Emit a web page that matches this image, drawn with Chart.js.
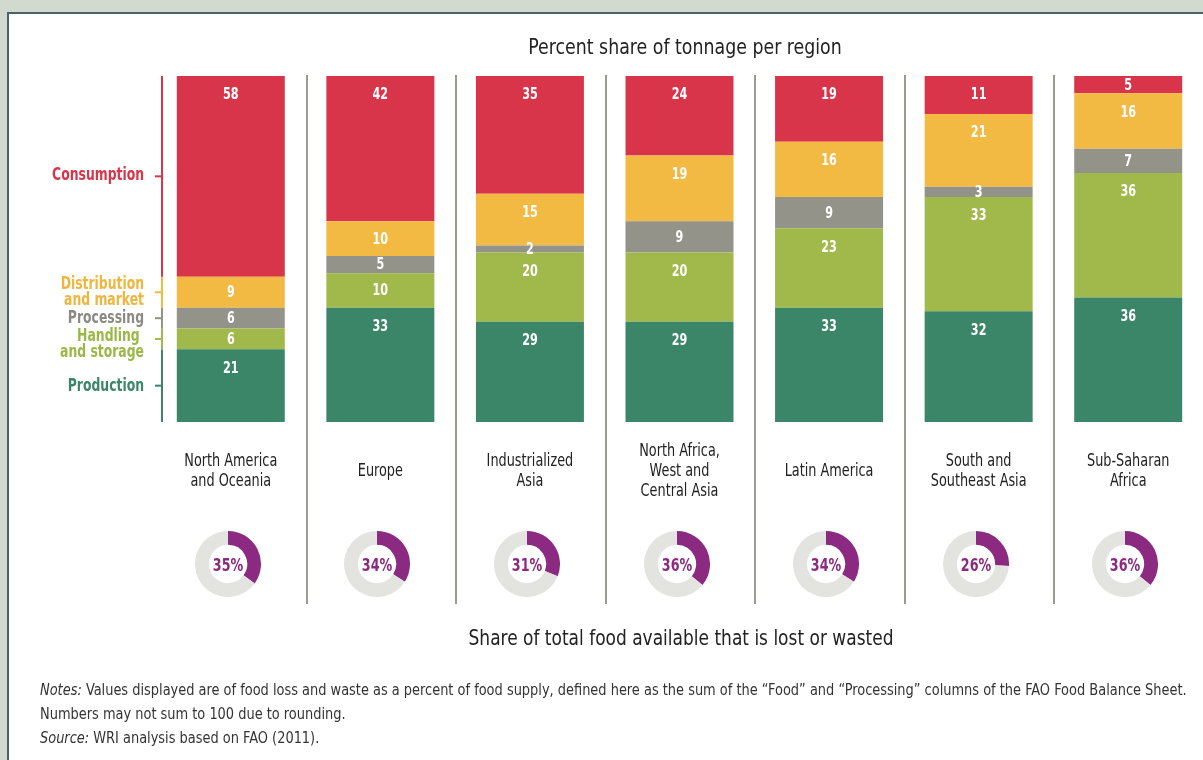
<!DOCTYPE html>
<html>
<head>
<meta charset="utf-8">
<title>Food loss and waste by stage and region</title>
<script src="https://cdn.jsdelivr.net/npm/chart.js@4/dist/chart.umd.min.js"></script>
<style>
  body {
    margin: 0;
    width: 1203px;
    height: 760px;
    overflow: hidden;
    background: #d2dacf;
    font-family: "DejaVu Sans Condensed", sans-serif;
  }
  #panel {
    position: absolute;
    left: 7px;
    top: 12px;
    width: 1220px;
    height: 780px;
    background: #fff;
    border: 2px solid #4b6267;
  }
  #stages {
    position: absolute;
    left: 0;
    top: 0;
  }
  .donut {
    position: absolute;
    top: 531px;
    width: 66px;
    height: 66px;
  }
  .donut span {
    position: absolute;
    left: 0;
    top: 1px;
    width: 66px;
    line-height: 66px;
    text-align: center;
    font-weight: bold;
    font-size: 17px;
    color: #8b2a80;
    transform: scaleX(0.83);
  }
  #notes {
    position: absolute;
    left: 40px;
    top: 678px;
    font-size: 16px;
    line-height: 24px;
    color: #333;
    white-space: nowrap;
    transform: scaleX(0.9);
    transform-origin: left top;
  }
</style>
</head>
<body>
<div id="panel"></div>
<canvas id="stages" width="1203" height="760"></canvas>
<div id="donuts"></div>
<div id="notes">
  <i>Notes:</i> Values displayed are of food loss and waste as a percent of food supply, defined here as the sum of the “Food” and “Processing” columns of the FAO Food Balance Sheet.<br>
  Numbers may not sum to 100 due to rounding.<br>
  <i>Source:</i> WRI analysis based on FAO (2011).
</div>
<script>
const regions = [
  ["North America", "and Oceania"],
  ["Europe"],
  ["Industrialized", "Asia"],
  ["North Africa,", "West and", "Central Asia"],
  ["Latin America"],
  ["South and", "Southeast Asia"],
  ["Sub-Saharan", "Africa"],
];

// percent share of tonnage lost at each stage, bottom of the stack first
const production = [21, 33, 29, 29, 33, 32, 36];
const handling = [6, 10, 20, 20, 23, 33, 36];
const processing = [6, 5, 2, 9, 9, 3, 7];
const distribution = [9, 10, 15, 19, 16, 21, 16];
const consumption = [58, 42, 35, 24, 19, 11, 5];

// share of total food available that is lost or wasted
const lostShare = [35, 34, 31, 36, 34, 26, 36];

const FONT = '"DejaVu Sans Condensed", sans-serif';

const stages = [
  { label: ["Production"], data: production, color: "#3b8668", text: "#3b8668", lines: [1] },
  { label: ["Handling ", "and storage"], data: handling, color: "#a0b94a", text: "#9bb847", lines: [-2, 14] },
  { label: ["Processing"], data: processing, color: "#939389", text: "#8a8a82", lines: [0] },
  { label: ["Distribution", "and market"], data: distribution, color: "#f2b943", text: "#f0b53e", lines: [-8, 8] },
  { label: ["Consumption"], data: consumption, color: "#d8344a", text: "#d8344a", lines: [-1] },
];

// the reference lettering is a narrow face, so squeeze text horizontally
function narrowText(ctx, text, x, y, sx) {
  ctx.save();
  ctx.translate(x, y);
  ctx.scale(sx, 1);
  ctx.fillText(text, 0, 0);
  ctx.restore();
}

// separators, stage axis, values in the bars and the surrounding captions
const annotations = {
  id: "annotations",
  beforeDatasetsDraw(chart) {
    const { ctx, chartArea } = chart;
    const colW = (chartArea.right - chartArea.left) / regions.length;
    ctx.save();
    ctx.strokeStyle = "#9a9a92";
    ctx.lineWidth = 2;
    for (let i = 1; i < regions.length; i++) {
      const x = Math.round(chartArea.left + i * colW) + 1;
      ctx.beginPath();
      ctx.moveTo(x, 75);
      ctx.lineTo(x, 604);
      ctx.stroke();
    }
    ctx.restore();
  },
  afterDatasetsDraw(chart) {
    const { ctx, chartArea, scales } = chart;
    const y = scales.y;
    const colW = (chartArea.right - chartArea.left) / regions.length;
    ctx.save();

    // stage axis on the left, split by the first region's stack
    let cum = 0;
    const axisX = chartArea.left + 6;
    stages.forEach((s) => {
      const v = s.data[0];
      const bottom = y.getPixelForValue(cum);
      const top = Math.max(y.getPixelForValue(cum + v), chartArea.top);
      const mid = (top + bottom) / 2;
      cum += v;
      ctx.fillStyle = s.color;
      ctx.fillRect(axisX - 1, top, 2, bottom - top);
      ctx.fillRect(axisX - 7, mid - 1, 7, 2);
      ctx.font = "bold 17px " + FONT;
      ctx.fillStyle = s.text;
      ctx.textAlign = "right";
      ctx.textBaseline = "middle";
      s.label.forEach((line, k) => {
        narrowText(ctx, line, 144, mid + s.lines[k], 0.81);
      });
    });

    // values inside each segment
    ctx.font = "bold 15px " + FONT;
    ctx.fillStyle = "#fff";
    ctx.textAlign = "center";
    ctx.textBaseline = "middle";
    chart.data.datasets.forEach((ds, di) => {
      const meta = chart.getDatasetMeta(di);
      meta.data.forEach((bar, i) => {
        const top = Math.max(bar.y, chartArea.top);
        const ty = Math.min(top + 19.5, (top + bar.base) / 2 + 1);
        narrowText(ctx, String(ds.data[i]), bar.x, ty, 0.83);
      });
    });

    // captions
    ctx.fillStyle = "#222";
    ctx.font = "21px " + FONT;
    narrowText(ctx, "Percent share of tonnage per region", 685, 49, 0.92);
    ctx.font = "22px " + FONT;
    narrowText(ctx, "Share of total food available that is lost or wasted", 681, 639, 0.86);

    ctx.font = "17px " + FONT;
    regions.forEach((lines, i) => {
      const cx = chartArea.left + (i + 0.5) * colW;
      const y0 = 472 - ((lines.length - 1) * 20) / 2;
      lines.forEach((line, k) => narrowText(ctx, line, cx, y0 + k * 20, 0.84));
    });
    ctx.restore();
  },
};

new Chart(document.getElementById("stages"), {
  type: "bar",
  data: {
    labels: regions.map((r) => r.join(" ")),
    datasets: stages.map((s) => ({
      label: s.label.join(" ").trim(),
      data: s.data,
      backgroundColor: s.color,
      borderWidth: 0,
      barPercentage: 0.722,
      categoryPercentage: 1,
    })),
  },
  options: {
    responsive: false,
    animation: false,
    events: [],
    layout: { padding: { left: 156, top: 76, right: 0, bottom: 338 } },
    plugins: {
      legend: { display: false },
      tooltip: { enabled: false },
    },
    scales: {
      x: { stacked: true, display: false },
      y: { stacked: true, display: false, min: 0, max: 100 },
    },
  },
  plugins: [annotations],
});

// one small doughnut per region for the overall loss share
const donuts = document.getElementById("donuts");
lostShare.forEach((pct, i) => {
  const colW = (1203 - 156) / regions.length;
  const cx = 156 + (i + 0.5) * colW - 3;
  const box = document.createElement("div");
  box.className = "donut";
  box.style.left = Math.round(cx - 33) + "px";
  const canvas = document.createElement("canvas");
  canvas.width = 66;
  canvas.height = 66;
  box.appendChild(canvas);
  const label = document.createElement("span");
  label.textContent = pct + "%";
  box.appendChild(label);
  donuts.appendChild(box);

  new Chart(canvas, {
    type: "doughnut",
    data: {
      labels: ["Lost or wasted", "Remaining"],
      datasets: [
        {
          data: [pct, 100 - pct],
          backgroundColor: ["#8b2a80", "#e3e3df"],
          borderWidth: 0,
        },
      ],
    },
    options: {
      responsive: false,
      animation: false,
      events: [],
      cutout: "58%",
      plugins: { legend: { display: false }, tooltip: { enabled: false } },
    },
  });
});
</script>
</body>
</html>
